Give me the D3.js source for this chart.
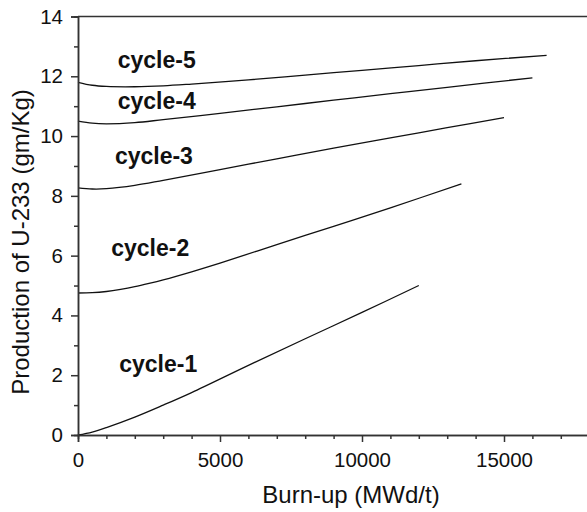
<!DOCTYPE html>
<html>
<head>
<meta charset="utf-8">
<script src="https://cdn.jsdelivr.net/npm/d3@7"></script>
<style>
  body { margin:0; background:#fff; }
  text { font-family: "Liberation Sans", Arial, Helvetica, sans-serif; fill:#111; }
</style>
</head>
<body>
<div id="vis"></div>
<script>
(function run(){

  // burn-up (MWd/t) and U-233 production (gm/Kg)
  var cycle1X = [0, 500, 1000, 2000, 3000, 4000, 6000, 8000, 10000, 12000];
  var cycle1Y = [0, 0.1, 0.25, 0.6, 1.0, 1.42, 2.33, 3.22, 4.1, 5.0];

  var cycle2X = [0, 500, 1000, 1500, 2000, 2500, 3000, 4000, 5000, 7000, 9000, 11000, 13500];
  var cycle2Y = [4.75, 4.76, 4.8, 4.87, 4.96, 5.07, 5.19, 5.46, 5.75, 6.37, 6.98, 7.6, 8.4];

  var cycle3X = [0, 500, 1000, 2000, 3000, 5000, 7000, 9000, 11000, 13000, 15000];
  var cycle3Y = [8.27, 8.23, 8.24, 8.35, 8.52, 8.88, 9.24, 9.6, 9.94, 10.28, 10.62];

  var cycle4X = [0, 500, 1000, 2000, 3000, 5000, 7000, 9000, 11000, 13000, 16000];
  var cycle4Y = [10.5, 10.43, 10.41, 10.45, 10.55, 10.76, 10.98, 11.2, 11.42, 11.63, 11.95];

  var cycle5X = [0, 500, 1000, 2000, 3000, 4000, 6000, 8000, 10000, 12000, 14000, 16500];
  var cycle5Y = [11.8, 11.7, 11.66, 11.65, 11.68, 11.74, 11.88, 12.04, 12.2, 12.36, 12.52, 12.7];

  var cycleNames = ["cycle-1", "cycle-2", "cycle-3", "cycle-4", "cycle-5"];
  // where each label sits (burn-up, production)
  var labelX = [1450, 1170, 1300, 1400, 1400];
  var labelY = [2.1, 6.0, 9.07, 10.92, 12.28];

  var xMajor = [0, 5000, 10000, 15000];
  var xMinor = [1000, 2000, 3000, 4000, 6000, 7000, 8000, 9000, 11000, 12000, 13000, 14000, 16000, 17000, 18000];
  var yMajor = [0, 2, 4, 6, 8, 10, 12, 14];
  var yMinor = [1, 3, 5, 7, 9, 11, 13];

  var margin = {top:16.5, left:78};
  var width = 511.2;
  var height = 418.5;

  var svg = d3.select("#vis")
    .append("svg")
      .attr("width", 587)
      .attr("height", 512);

  var g = svg.append("g")
    .attr("transform", "translate(" + margin.left + "," + margin.top + ")");

  var x = d3.scaleLinear().domain([0, 18000]).range([0, width]);
  var y = d3.scaleLinear().domain([0, 14]).range([height, 0]);

  var series = [
    d3.zip(cycle1X, cycle1Y),
    d3.zip(cycle2X, cycle2Y),
    d3.zip(cycle3X, cycle3Y),
    d3.zip(cycle4X, cycle4Y),
    d3.zip(cycle5X, cycle5Y)
  ];

  var line = d3.line()
    .x(function(d){ return x(d[0]); })
    .y(function(d){ return y(d[1]); })
    .curve(d3.curveCatmullRom.alpha(0.5));

  g.selectAll(".cycle")
    .data(series)
    .enter()
    .append("path")
      .attr("class", "cycle")
      .attr("d", line)
      .attr("fill", "none")
      .attr("stroke", "#111")
      .attr("stroke-width", 1.3);

  g.selectAll(".lbl")
    .data(cycleNames)
    .enter()
    .append("text")
      .attr("class", "lbl")
      .attr("x", function(d, i){ return x(labelX[i]); })
      .attr("y", function(d, i){ return y(labelY[i]); })
      .style("font-size", "23px")
      .style("font-weight", "bold")
      .text(function(d){ return d; });

  // top frame line
  g.append("line")
    .attr("x1", 0).attr("x2", width)
    .attr("y1", 0).attr("y2", 0)
    .attr("stroke", "#333")
    .attr("stroke-width", 1.5);

  var xAxis = d3.axisBottom(x)
    .tickValues(xMajor)
    .tickSize(7)
    .tickPadding(10)
    .tickFormat(d3.format("d"));

  var xAxisMinor = d3.axisBottom(x)
    .tickValues(xMinor)
    .tickSize(4)
    .tickFormat("");

  var yAxis = d3.axisLeft(y)
    .tickValues(yMajor)
    .tickSize(7)
    .tickPadding(8);

  var yAxisMinor = d3.axisLeft(y)
    .tickValues(yMinor)
    .tickSize(4)
    .tickFormat("");

  g.append("g")
    .attr("class", "x axis")
    .attr("transform", "translate(0," + height + ")")
    .call(xAxisMinor);
  g.append("g")
    .attr("class", "x axis")
    .attr("transform", "translate(0," + height + ")")
    .call(xAxis);

  g.append("g").attr("class", "y axis").call(yAxisMinor);
  g.append("g").attr("class", "y axis").call(yAxis);

  g.selectAll(".axis path, .axis line")
    .attr("stroke", "#333")
    .attr("stroke-width", 1.5);
  g.selectAll(".axis text")
    .style("font-size", "20.5px")
    .style("font-family", "'Liberation Sans', Arial, sans-serif")
    .attr("fill", "#111");

  svg.append("text")
    .attr("x", 351)
    .attr("y", 503)
    .attr("text-anchor", "middle")
    .style("font-size", "24px")
    .text("Burn-up (MWd/t)");

  svg.append("text")
    .attr("transform", "translate(28.5,242) rotate(-90)")
    .attr("text-anchor", "middle")
    .style("font-size", "24px")
    .text("Production of U-233 (gm/Kg)");

})();
</script>
</body>
</html>
